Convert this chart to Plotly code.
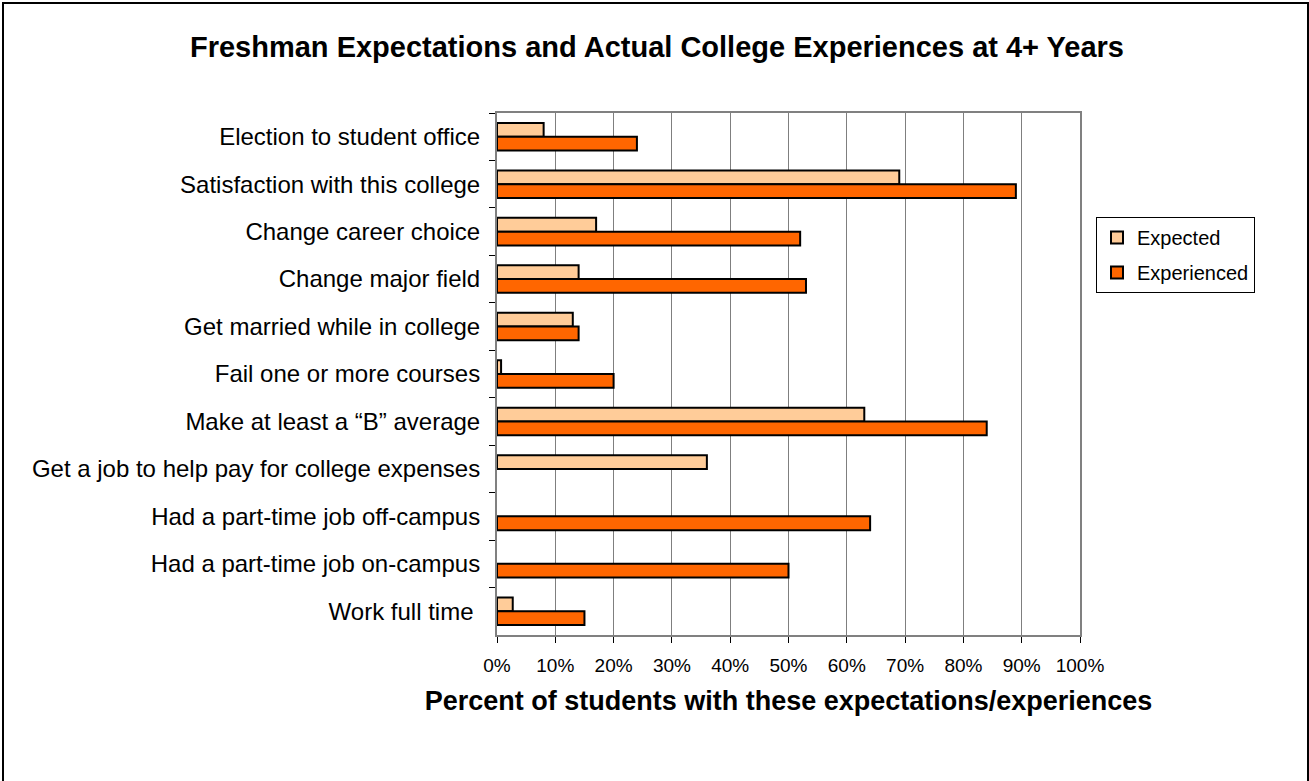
import plotly.graph_objects as go

categories = [
    "Election to student office",
    "Satisfaction with this college",
    "Change career choice",
    "Change major field",
    "Get married while in college",
    "Fail one or more courses",
    "Make at least a \u201cB\u201d average",
    "Get a job to help pay for college expenses",
    "Had a part-time job off-campus",
    "Had a part-time job on-campus",
    "Work full time ",
]
expected = [8, 69, 17, 14, 13, 0.7, 63, 36, None, None, 2.7]
experienced = [24, 89, 52, 53, 14, 20, 84, None, 64, 50, 15]
x_ticks = [0, 10, 20, 30, 40, 50, 60, 70, 80, 90, 100]

FONT = "Arial, Liberation Sans, sans-serif"

fig = go.Figure()
fig.add_trace(go.Bar(
    y=categories, x=expected, name="Expected", orientation="h",
    legendgroup="a",
    marker=dict(color="#FFCC99", line=dict(color="black", width=2)),
))
fig.add_trace(go.Bar(
    y=categories, x=experienced, name="Experienced", orientation="h",
    legendgroup="b",
    marker=dict(color="#FF6600", line=dict(color="black", width=2)),
))

# plot area: x 497..1080, y 113..635
L, R, T, B = 497, 229, 113, 146
W, H = 1309, 781
pw, ph = W - L - R, H - T - B

def px(x):
    return (x - L) / pw

def py(y):
    return (H - B - y) / ph

fig.update_layout(
    width=W, height=H,
    margin=dict(l=L, r=R, t=T, b=B),
    paper_bgcolor="white", plot_bgcolor="white",
    font=dict(family=FONT, color="black", size=20),
    barmode="group", bargap=0.42, bargroupgap=0,
    title=dict(
        text="<b>Freshman Expectations and Actual College Experiences at 4+ Years</b>",
        x=657 / W, xanchor="center", y=1 - 47 / H, yanchor="middle",
        yref="container", font=dict(size=29, family=FONT),
    ),
    legend=dict(
        x=px(1096), y=py(217), xanchor="left", yanchor="top",
        bordercolor="black", borderwidth=1, bgcolor="white",
        font=dict(size=20, family=FONT), traceorder="grouped",
        tracegroupgap=6, itemwidth=30,
    ),
    showlegend=True,
)

fig.update_xaxes(
    range=[0, 100], tickvals=x_ticks, ticktext=[f"{v}%" for v in x_ticks],
    showgrid=True, gridcolor="#7f7f7f", gridwidth=1,
    ticks="outside", ticklen=6, tickcolor="black",
    showline=True, linecolor="#808080", linewidth=2, mirror=True,
    tickfont=dict(size=19, family=FONT), ticklabelstandoff=6,
    title=dict(text="<b>Percent of students with these expectations/experiences</b>",
               font=dict(size=27, family=FONT), standoff=16),
    zeroline=False, fixedrange=True,
)
fig.update_yaxes(
    autorange="reversed", tickson="boundaries",
    ticks="outside", ticklen=6, tickcolor="black",
    showline=True, linecolor="#808080", linewidth=2, mirror=True,
    tickfont=dict(size=24, family=FONT), ticklabelstandoff=10,
    showgrid=False, fixedrange=True,
)

# outer chart border
fig.add_shape(
    type="rect", xref="paper", yref="paper",
    x0=px(3), x1=px(1308), y0=py(800), y1=py(3),
    line=dict(color="black", width=2), fillcolor="rgba(0,0,0,0)",
    layer="below",
)

fig.write_html(
    "out.html",
    config={"displayModeBar": False},
    post_script="document.body.style.margin='0';document.body.style.overflow='hidden';",
)
